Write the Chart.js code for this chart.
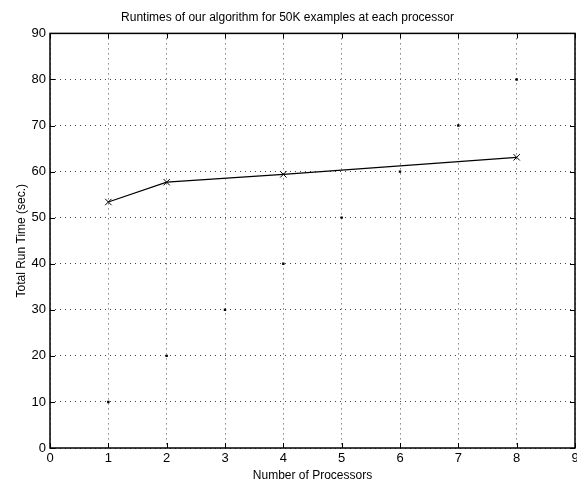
<!DOCTYPE html>
<html>
<head>
<meta charset="utf-8">
<script src="https://cdn.jsdelivr.net/npm/chart.js@4/dist/chart.umd.min.js"></script>
<style>
  html, body { margin: 0; padding: 0; background: #fff; }
  #wrap { width: 577px; height: 487px; }
</style>
</head>
<body>
<div id="wrap"><canvas id="chart" width="577" height="487"></canvas></div>
<script>
// measured runtimes (x markers joined by a line)
const processors = [1, 2, 4, 8];
const runTimes = [53.4, 57.7, 59.4, 63.1];

// reference dots
const refX = [1, 2, 3, 4, 5, 6, 7, 8];
const refY = [10, 20, 30, 40, 50, 60, 70, 80];

const xTicks = [0, 1, 2, 3, 4, 5, 6, 7, 8, 9];
const yTicks = [0, 10, 20, 30, 40, 50, 60, 70, 80, 90];

const fontFam = "'Liberation Sans', Arial, Helvetica, sans-serif";

// matlab style box with inward ticks on all four sides
const boxTicks = {
    id: "boxTicks",
    afterDraw(chart) {
        const { ctx, chartArea: a, scales } = chart;
        const len = 5;
        ctx.save();
        ctx.strokeStyle = "#000";
        ctx.lineWidth = 1;
        ctx.beginPath();
        xTicks.forEach(v => {
            const px = Math.round(scales.x.getPixelForValue(v)) + 0.5;
            ctx.moveTo(px, a.bottom); ctx.lineTo(px, a.bottom - len);
            ctx.moveTo(px, a.top); ctx.lineTo(px, a.top + len);
        });
        yTicks.forEach(v => {
            const py = Math.round(scales.y.getPixelForValue(v)) + 0.5;
            ctx.moveTo(a.left, py); ctx.lineTo(a.left + len, py);
            ctx.moveTo(a.right, py); ctx.lineTo(a.right - len, py);
        });
        ctx.stroke();
        ctx.lineWidth = 1.5;
        ctx.strokeRect(a.left, a.top, a.right - a.left, a.bottom - a.top);
        ctx.restore();
    }
};

new Chart(document.getElementById("chart"), {
    type: "scatter",
    data: {
        datasets: [
            {
                data: processors.map((p, i) => ({ x: p, y: runTimes[i] })),
                showLine: true,
                borderColor: "#000",
                backgroundColor: "#000",
                borderWidth: 1.2,
                pointStyle: "crossRot",
                pointRadius: 4.5,
                pointBorderWidth: 1,
                pointBorderColor: "#000",
                order: 1
            },
            {
                data: refX.map((p, i) => ({ x: p, y: refY[i] })),
                showLine: false,
                pointStyle: "rect",
                pointRadius: 1.7,
                borderWidth: 0,
                backgroundColor: "#000",
                borderColor: "#000",
                order: 2
            }
        ]
    },
    options: {
        responsive: false,
        animation: false,
        devicePixelRatio: 1,
        layout: { autoPadding: false, padding: { left: 0, right: 2, top: 0, bottom: 0 } },
        plugins: {
            legend: { display: false },
            tooltip: { enabled: false },
            title: {
                display: true,
                text: "Runtimes of our algorithm for 50K examples at each processor",
                color: "#000",
                font: { family: fontFam, size: 12, weight: "normal", lineHeight: 1.2 },
                padding: { top: 10, bottom: 9 }
            }
        },
        scales: {
            x: {
                type: "linear",
                min: 0,
                max: 9,
                afterBuildTicks: s => { s.ticks = xTicks.map(v => ({ value: v })); },
                afterFit: s => { s.height = 39; s.paddingLeft = 0; s.paddingRight = 0; },
                ticks: {
                    color: "#000",
                    padding: 3,
                    font: { family: fontFam, size: 13 }
                },
                grid: {
                    color: "#444",
                    lineWidth: 1,
                    drawTicks: false,
                    tickLength: 0
                },
                border: { display: false, dash: [1, 4] },
                title: {
                    display: true,
                    text: "Number of Processors",
                    color: "#000",
                    font: { family: fontFam, size: 12 },
                    padding: { top: 0, bottom: 4 }
                }
            },
            y: {
                type: "linear",
                min: 0,
                max: 90,
                afterBuildTicks: s => { s.ticks = yTicks.map(v => ({ value: v })); },
                afterFit: s => { s.width = 50; s.paddingTop = 0; s.paddingBottom = 0; },
                ticks: {
                    color: "#000",
                    padding: 4,
                    font: { family: fontFam, size: 13 }
                },
                grid: {
                    color: "#444",
                    lineWidth: 1,
                    drawTicks: false,
                    tickLength: 0
                },
                border: { display: false, dash: [1, 4] },
                title: {
                    display: true,
                    text: "Total Run Time (sec.)",
                    color: "#000",
                    font: { family: fontFam, size: 12 },
                    padding: { top: 14, bottom: 0 }
                }
            }
        }
    },
    plugins: [boxTicks]
});
</script>
</body>
</html>
